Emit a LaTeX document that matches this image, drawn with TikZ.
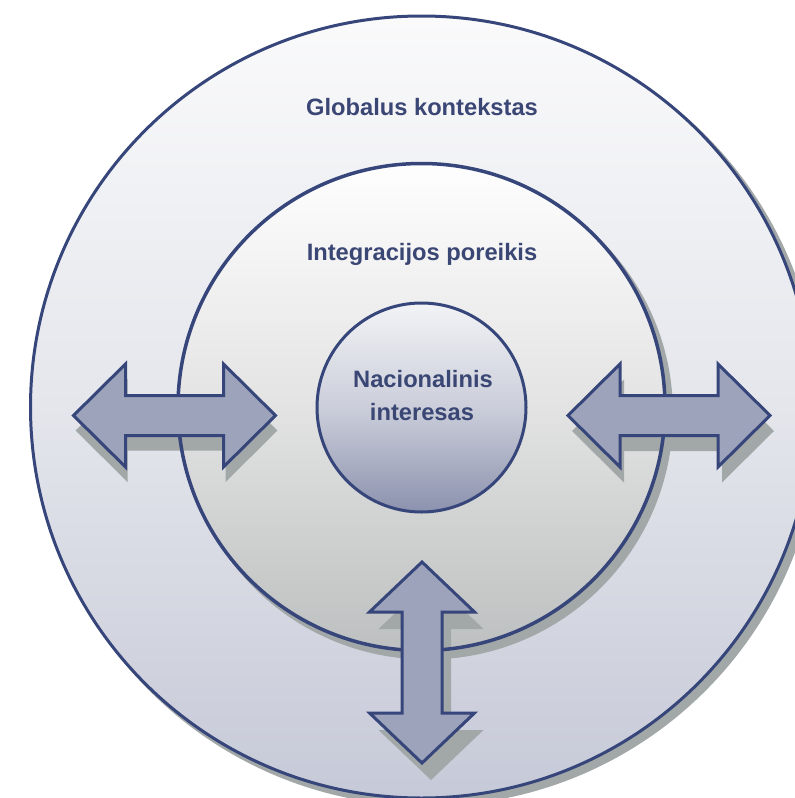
\documentclass[tikz,border=0pt]{standalone}
\usepackage{fontspec}
\setmainfont{Liberation Sans}
\definecolor{navy}{HTML}{36457A}
\definecolor{txtc}{HTML}{3A4674}
\definecolor{arrfill}{HTML}{9DA3BB}
\definecolor{shadc}{HTML}{A2A7A8}
\definecolor{outtop}{HTML}{FAFAFB}
\definecolor{outmid}{HTML}{E4E6EC}
\definecolor{outbot}{HTML}{C6C9D7}
\definecolor{midtop}{HTML}{FEFEFE}
\definecolor{midmid}{HTML}{E2E3E2}
\definecolor{midbot}{HTML}{BDC0C0}
\definecolor{intop}{HTML}{F2F3F6}
\definecolor{inmid}{HTML}{CBCEDA}
\definecolor{inbot}{HTML}{8C92AE}
\newcommand\hdblarrow{(-101,0) -- (-49,-51.5) -- (-49,-20) -- (49,-20) -- (49,-51.5) -- (101,0) -- (49,51.5) -- (49,20) -- (-49,20) -- (-49,51.5) -- cycle}
\newcommand\vdblarrow{(0,-100.5) -- (52.5,-50.5) -- (20,-50.5) -- (20,50.5) -- (52.5,50.5) -- (0,100.5) -- (-52.5,50.5) -- (-20,50.5) -- (-20,-50.5) -- (-52.5,-50.5) -- cycle}
\tikzset{
  arrowbody/.style={fill=arrfill, draw=navy, line width=3pt, line join=miter},
  shadowbody/.style={fill=shadc},
  ringline/.style={draw=navy},
  lbl/.style={text=txtc, font=\fontsize{23.7pt}{28pt}\selectfont\bfseries, inner sep=0pt, anchor=base}
}
\begin{document}
\begin{tikzpicture}[x=1pt,y=-1pt]
\useasboundingbox (0,0) rectangle (795,798);
% outer circle
\fill[shadowbody] (427.5,413) circle[radius=393pt];
\shade[top color=outtop, bottom color=outbot, middle color=outmid] (421.5,407) circle[radius=391pt];
\draw[ringline, line width=3pt] (421.5,407) circle[radius=391pt];
% middle circle
\fill[shadowbody] (427.5,414) circle[radius=245.5pt];
\shade[top color=midtop, bottom color=midbot, middle color=midmid] (421.5,407) circle[radius=243.5pt];
% arrow shadows
\fill[shadowbody, shift={(176.5,430.5)}] \hdblarrow;
\fill[shadowbody, shift={(673,431)}] \hdblarrow;
\fill[shadowbody, shift={(431,679.5)}] \vdblarrow;
% middle ring line
\draw[ringline, line width=3.5pt] (421.5,407) circle[radius=243.5pt];
% inner circle
\shade[top color=intop, bottom color=inbot, middle color=inmid] (421.5,407.5) circle[radius=104.5pt];
\draw[ringline, line width=3pt] (421.5,407.5) circle[radius=104.5pt];
% arrows
\draw[arrowbody, shift={(174.5,415.5)}] \hdblarrow;
\draw[arrowbody, shift={(669,415.5)}] \hdblarrow;
\draw[arrowbody, shift={(422,662.5)}] \vdblarrow;
% labels
\node[lbl] (glob) at (422,115) {Globalus kontekstas};
\node[lbl] (integ) at (422,260) {Integracijos poreikis};
\node[lbl] (nac1) at (423,387) {Nacionalinis};
\node[lbl] (nac2) at (422,420) {interesas};
\end{tikzpicture}
\end{document}
